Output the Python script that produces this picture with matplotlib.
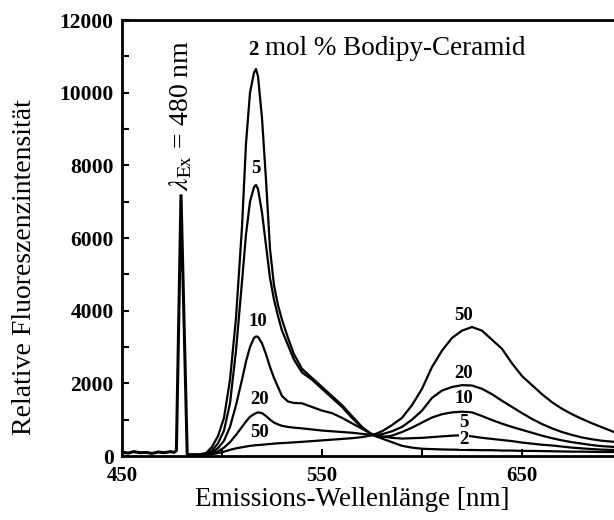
import matplotlib
matplotlib.use("Agg")
import matplotlib.pyplot as plt
from matplotlib.ticker import FixedLocator, MultipleLocator

# --------------------------
# DATA
# --------------------------
# excitation line + baseline
ex_wl = [450, 453, 456, 459, 462, 465, 468, 471, 474, 476, 477.2, 479.5, 482.6, 483.5]
ex_int = [110, 80, 120, 90, 100, 70, 110, 90, 120, 100, 150, 7200, 60, 40]

wl = [483, 488, 492, 495, 498, 501, 504, 507, 510, 512, 514, 516, 517, 518, 520,
      522, 524, 526, 528, 530, 533, 536, 540, 545, 550, 555, 560, 565, 570, 575,
      580, 585, 590, 595, 600, 605, 610, 615, 620, 625, 630, 635, 640, 645, 650,
      655, 660, 665, 670, 675, 680, 685, 690, 696]

mol2 = [40, 40, 80, 250, 550, 1050, 2100, 3800, 6300, 8600, 10000, 10550, 10650, 10450, 9300,
        7600, 5700, 4700, 4150, 3750, 3250, 2800, 2400, 2150, 1900, 1650, 1400, 1100, 800, 580,
        480, 380, 280, 230, 200, 190, 180, 175, 170, 165, 160, 160, 150, 150, 140,
        140, 135, 130, 125, 120, 120, 115, 110, 110]
mol5 = [40, 40, 60, 150, 350, 700, 1450, 2900, 4800, 6100, 7000, 7400, 7460, 7350, 6700,
        5800, 4900, 4300, 3850, 3450, 3050, 2650, 2300, 2100, 1850, 1600, 1350, 1050, 780, 600,
        540, 500, 480, 490, 500, 520, 540, 560, 570, 540, 500, 470, 440, 410, 370,
        340, 310, 290, 260, 230, 210, 190, 175, 165]
mol10 = [30, 30, 50, 100, 220, 420, 800, 1400, 2100, 2600, 3000, 3250, 3290, 3280, 3100,
         2800, 2450, 2150, 1900, 1650, 1500, 1460, 1450, 1350, 1250, 1180, 1050, 900, 750, 600,
         520, 560, 660, 780, 920, 1060, 1150, 1200, 1220, 1200, 1100, 990, 890, 800, 720,
         640, 560, 490, 430, 380, 340, 300, 270, 250]
mol20 = [30, 30, 40, 70, 130, 230, 380, 580, 800, 950, 1080, 1150, 1180, 1200, 1180,
         1100, 1000, 920, 870, 830, 800, 780, 760, 730, 700, 680, 660, 640, 610, 580,
         600, 680, 800, 1000, 1250, 1600, 1800, 1900, 1950, 1940, 1850, 1700, 1520, 1350, 1180,
         1020, 880, 760, 660, 580, 510, 460, 420, 390]
mol50 = [30, 30, 35, 50, 80, 120, 170, 210, 240, 260, 280, 290, 300, 300, 310,
         320, 330, 340, 350, 355, 365, 375, 390, 410, 430, 450, 470, 490, 520, 570,
         680, 850, 1050, 1400, 1850, 2450, 2900, 3250, 3450, 3550, 3450, 3200, 2950, 2550, 2200,
         1950, 1700, 1480, 1300, 1150, 1020, 900, 790, 660]

series = [mol2, mol5, mol10, mol20, mol50]

x_ticks = [450, 550, 650]
x_minor = [500, 600]

# curve labels: (text, wavelength, intensity)
left_labels = [("5", 517, 7900), ("10", 518, 3700), ("20", 519, 1550), ("50", 519, 640)]
right_labels = [("50", 621, 3880), ("20", 621, 2280), ("10", 621, 1570), ("5", 621, 930), ("2", 621, 450)]

# --------------------------
# STYLE
# --------------------------
plt.rcParams['font.family'] = ['Liberation Serif', 'DejaVu Serif']
plt.rcParams['mathtext.fontset'] = 'stix'

fig = plt.figure(figsize=(6.14, 5.2), dpi=100)
ax = fig.add_axes([122 / 614, 64 / 520, 492 / 614, 436 / 520])

ax.plot(ex_wl, ex_int, color='black', lw=2.2, solid_joinstyle='miter')
for s in series:
    ax.plot(wl, s, color='black', lw=1.6)

ax.set_xlim(450, 696)
ax.set_ylim(0, 12000)

ax.xaxis.set_major_locator(FixedLocator(x_ticks))
ax.xaxis.set_minor_locator(FixedLocator(x_minor))
ax.yaxis.set_major_locator(MultipleLocator(2000))
ax.yaxis.set_minor_locator(MultipleLocator(1000))
ax.tick_params(which='both', direction='in', length=5, width=1.5, top=False, right=False)
ax.tick_params(axis='y', pad=6, labelsize=15.5)
ax.tick_params(axis='x', pad=7, labelsize=15)
for lab in ax.get_xticklabels() + ax.get_yticklabels():
    lab.set_fontweight('bold')

for side in ['left', 'bottom', 'top']:
    ax.spines[side].set_linewidth(2)
ax.spines['right'].set_visible(False)

# labels on the curves (white box hides the line underneath)
box = dict(facecolor='white', edgecolor='none', pad=0.3)
for txt, x, y in left_labels + right_labels:
    ax.text(x, y, txt, ha='center', va='center', fontsize=13.5, fontweight='bold', bbox=box)

ax.text(515.5, 11050, "2", ha='center', va='baseline', fontsize=15, fontweight='bold')
ax.text(521.5, 11050, "mol % Bodipy-Ceramid", ha='left', va='baseline', fontsize=19.5)

ax.text(479.5, 7300, r"$\lambda_{\mathrm{Ex}}$ = 480 nm", rotation=90, ha='center', va='bottom',
        fontsize=20)

fig.text(25 / 614, 1 - 267 / 520, "Relative Fluoreszenzintensität", rotation=90,
         ha='center', va='center', fontsize=20)
fig.text(352 / 614, 1 - 500 / 520, "Emissions-Wellenlänge [nm]", ha='center', va='center',
         fontsize=19.5)

fig.savefig("out.png", dpi=100)
